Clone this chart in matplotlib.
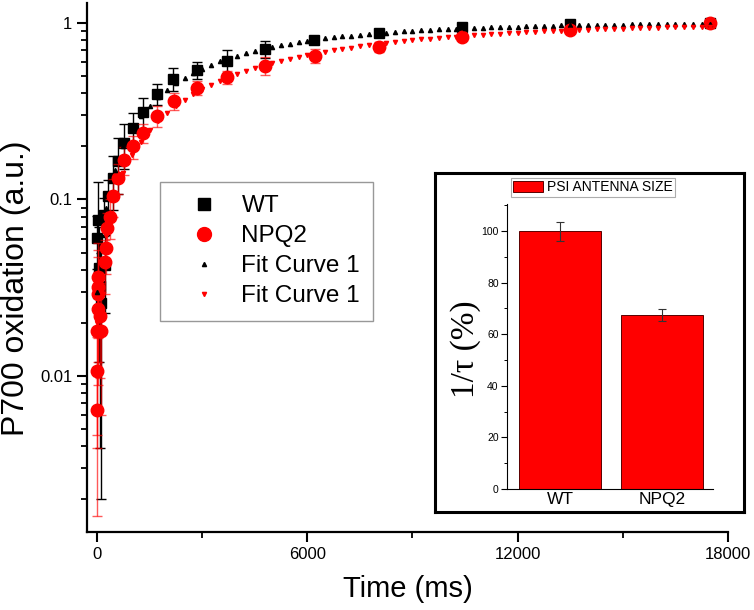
import numpy as np
import matplotlib
matplotlib.use("Agg")
import matplotlib.pyplot as plt
from matplotlib.ticker import LogLocator, FixedLocator, NullFormatter, MultipleLocator

plt.rcParams['font.family'] = ['Liberation Sans', 'DejaVu Sans']

# P700 oxidation kinetics, WT
wt_t = [0, 15, 50, 90, 110, 200, 230, 324, 448, 610, 771, 1019, 1323, 1705,
        2181, 2866, 3705, 4780, 6200, 8040, 10420, 13490, 17490]
wt_v = [0.0606, 0.0766, 0.041, 0.0324, 0.026, 0.082, 0.0427, 0.105, 0.132,
        0.165, 0.208, 0.255, 0.314, 0.396, 0.482, 0.542, 0.611, 0.71, 0.80,
        0.874, 0.945, 0.987, 1.0]
wt_err = [0.02, 0.049, 0.029, 0.0285, 0.024, 0.02, 0.02, 0.024, 0.045,
          0.057, 0.06, 0.053, 0.063, 0.055, 0.072, 0.062, 0.09, 0.08, 0.035,
          0.04, 0.035, 0.035, 0.035]

# NPQ2
npq_t = [0, 5, 10, 20, 25, 30, 40, 90, 110, 238, 257, 295, 371, 467, 610,
         771, 1019, 1323, 1724, 2210, 2866, 3705, 4780, 6230, 8040, 10420,
         13490, 17490]
npq_v = [0.0064, 0.0106, 0.0179, 0.0239, 0.029, 0.032, 0.0364, 0.0218, 0.018,
         0.044, 0.053, 0.069, 0.08, 0.105, 0.133, 0.168, 0.2, 0.239, 0.297,
         0.36, 0.43, 0.492, 0.573, 0.65, 0.734, 0.837, 0.913, 1.0]
npq_err = [0.0048, 0.006, 0.014, 0.015, 0.018, 0.02, 0.02, 0.012, 0.012,
           0.015, 0.015, 0.015, 0.02, 0.025, 0.025, 0.03, 0.03, 0.03, 0.04,
           0.04, 0.04, 0.041, 0.066, 0.06, 0.05, 0.04, 0.03, 0.03]

# fit curves, one value every 250 ms from 0 to 17500 ms
fit_t = np.arange(0, 17501, 250)
fit_wt = [0.030, 0.090, 0.147, 0.200, 0.249, 0.296, 0.340, 0.381, 0.419, 0.455,
          0.489, 0.521, 0.551, 0.578, 0.605, 0.629, 0.652, 0.674, 0.694, 0.713,
          0.731, 0.748, 0.763, 0.778, 0.792, 0.805, 0.817, 0.828, 0.839, 0.849,
          0.858, 0.867, 0.875, 0.883, 0.890, 0.897, 0.903, 0.909, 0.915, 0.920,
          0.925, 0.930, 0.934, 0.938, 0.942, 0.946, 0.949, 0.952, 0.955, 0.958,
          0.961, 0.963, 0.965, 0.968, 0.970, 0.971, 0.973, 0.975, 0.976, 0.978,
          0.979, 0.981, 0.982, 0.983, 0.984, 0.985, 0.986, 0.987, 0.988, 0.988,
          0.989]
fit_npq = [0.020, 0.062, 0.102, 0.141, 0.178, 0.213, 0.247, 0.279, 0.310, 0.340,
           0.368, 0.395, 0.421, 0.446, 0.470, 0.492, 0.514, 0.535, 0.555, 0.574,
           0.592, 0.610, 0.627, 0.643, 0.658, 0.673, 0.687, 0.700, 0.713, 0.725,
           0.737, 0.748, 0.759, 0.769, 0.779, 0.789, 0.798, 0.807, 0.815, 0.823,
           0.830, 0.838, 0.845, 0.851, 0.858, 0.864, 0.870, 0.875, 0.881, 0.886,
           0.891, 0.895, 0.900, 0.904, 0.908, 0.912, 0.916, 0.920, 0.923, 0.926,
           0.929, 0.932, 0.935, 0.938, 0.941, 0.943, 0.946, 0.948, 0.950, 0.952,
           0.954]

# inset: PSI antenna size
bar_labels = ["WT", "NPQ2"]
bar_vals = [100.0, 67.3]
bar_err = [3.7, 2.3]

fig = plt.figure(figsize=(7.54, 6.10), dpi=100)
ax = fig.add_axes([0.1154, 0.1279, 0.8501, 0.8672])

h_wt = ax.errorbar(wt_t, wt_v, yerr=wt_err, fmt='s', color='black', ms=7.5,
                   ecolor='black', elinewidth=1, capsize=3.5, capthick=1,
                   zorder=2)
h_npq = ax.errorbar(npq_t, npq_v, yerr=npq_err, fmt='o', color='#ff0000', ms=9,
                    ecolor=(1, 0, 0, 0.65), elinewidth=1, capsize=3.5,
                    capthick=1, zorder=3)
h_f1, = ax.plot(fit_t, fit_wt, '^', color='black', ms=3, ls='none', zorder=4)
h_f2, = ax.plot(fit_t, fit_npq, 'v', color='#ff0000', ms=3, ls='none',
                zorder=4)

ax.set_yscale('log')
ax.set_ylim(0.001306, 1.298)
ax.set_xlim(-285, 18000)
ax.set_xticks([0, 6000, 12000, 18000])
ax.xaxis.set_minor_locator(FixedLocator([3000, 9000, 15000]))
ax.set_yticks([0.01, 0.1, 1])
ax.set_yticklabels(['0.01', '0.1', '1'])
ax.yaxis.set_minor_locator(LogLocator(base=10, subs=np.arange(2, 10)))
ax.yaxis.set_minor_formatter(NullFormatter())
for s in ['top', 'right']:
    ax.spines[s].set_visible(False)
for s in ['left', 'bottom']:
    ax.spines[s].set_linewidth(1.6)
ax.tick_params(which='major', direction='out', length=7, width=1.5,
               labelsize=12)
ax.tick_params(which='minor', direction='out', length=4, width=1.3)
ax.set_xlabel('Time (ms)', fontsize=21, labelpad=10)
ax.set_ylabel('P700 oxidation (a.u.)', fontsize=23)
ax.yaxis.set_label_coords(-0.088, 0.461)

# legend handles: markers only
h_wt_leg = plt.Line2D([], [], marker='s', color='black', ms=9, ls='none')
h_npq_leg = plt.Line2D([], [], marker='o', color='#ff0000', ms=10, ls='none')
leg = ax.legend([h_wt_leg, h_npq_leg, h_f1, h_f2],
                ['WT', 'NPQ2', 'Fit Curve 1', 'Fit Curve 1'],
                loc='upper left', bbox_to_anchor=(0.1139, 0.6616),
                borderaxespad=0, fontsize=17.5, frameon=True, fancybox=False,
                edgecolor='#7f7f7f', handlelength=2.5, handletextpad=0.3,
                labelspacing=0.33, borderpad=0.55, numpoints=1)
leg.get_frame().set_linewidth(1.0)

# inset frame
frame = fig.add_axes([0.5769, 0.1607, 0.4098, 0.5557], zorder=3)
frame.set_xticks([])
frame.set_yticks([])
for s in frame.spines.values():
    s.set_linewidth(2.2)

ins = fig.add_axes([0.6724, 0.1984, 0.2732, 0.4672], zorder=4)
ins.bar([1, 2], bar_vals, width=0.8, color='#ff0000', edgecolor='#5a0000',
        linewidth=0.7, yerr=bar_err, capsize=3,
        error_kw=dict(elinewidth=0.8, ecolor='#333333', capthick=0.8),
        label='PSI ANTENNA SIZE')
ins.set_xlim(0.48, 2.5)
ins.set_ylim(0, 110.5)
ins.set_xticks([1, 2])
ins.set_xticklabels(bar_labels)
ins.yaxis.set_major_locator(MultipleLocator(20))
ins.yaxis.set_minor_locator(MultipleLocator(10))
for s in ['top', 'right']:
    ins.spines[s].set_visible(False)
ins.tick_params(axis='y', which='major', direction='out', length=4,
                width=0.8, labelsize=7.5, pad=2)
ins.tick_params(axis='y', which='minor', direction='out', length=2, width=0.7)
ins.tick_params(axis='x', direction='out', length=0, labelsize=12.5, pad=2)
ins.set_ylabel('1/\u03c4 (%)', fontsize=24,
               family=['Liberation Serif', 'DejaVu Serif'])
ins.yaxis.set_label_coords(-0.125, 0.49)
ileg = ins.legend(loc='center', bbox_to_anchor=(0.417, 1.058), fontsize=10,
                  frameon=True, fancybox=False, edgecolor='#999999',
                  handlelength=2.2, handleheight=0.9, handletextpad=0.3,
                  borderpad=0.15, borderaxespad=0)
ileg.get_frame().set_linewidth(0.8)

fig.savefig('out.png', dpi=100)
